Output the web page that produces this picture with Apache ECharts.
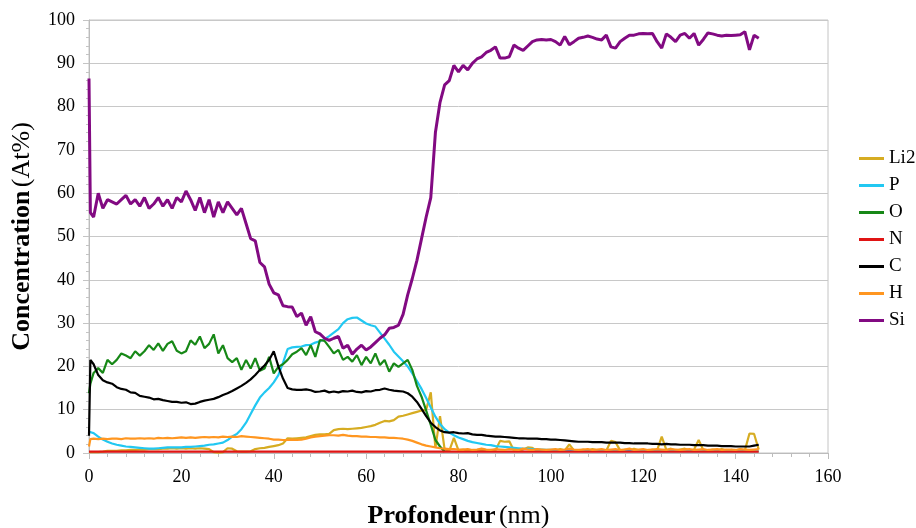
<!DOCTYPE html>
<html>
<head>
<meta charset="utf-8">
<script src="https://cdn.jsdelivr.net/npm/echarts@6/dist/echarts.min.js"></script>
<style>
html, body { margin: 0; padding: 0; background: #fff; }
#main { width: 916px; height: 528px; }
</style>
</head>
<body>
<div id="main"></div>
<script>
// profondeur (nm)
var depth = [0, 0.3,
    1, 2, 3, 4, 5, 6, 7, 8, 9, 10,
    11, 12, 13, 14, 15, 16, 17, 18, 19, 20,
    21, 22, 23, 24, 25, 26, 27, 28, 29, 30,
    31, 32, 33, 34, 35, 36, 37, 38, 39, 40,
    41, 42, 43, 44, 45, 46, 47, 48, 49, 50,
    51, 52, 53, 54, 55, 56, 57, 58, 59, 60,
    61, 62, 63, 64, 65, 66, 67, 68, 69, 70,
    71, 72, 73, 74, 75, 76, 77, 78, 79, 80,
    81, 82, 83, 84, 85, 86, 87, 88, 89, 90,
    91, 92, 93, 94, 95, 96, 97, 98, 99, 100,
    101, 102, 103, 104, 105, 106, 107, 108, 109, 110,
    111, 112, 113, 114, 115, 116, 117, 118, 119, 120,
    121, 122, 123, 124, 125, 126, 127, 128, 129, 130,
    131, 132, 133, 134, 135, 136, 137, 138, 139, 140,
    141, 142, 143, 144, 145];

var li2 = [0.2, 0.2,
    0.2, 0.2, 0.3, 0.5, 0.5, 0.5, 0.6, 0.6, 0.7, 0.7,
    0.8, 0.8, 0.9, 0.9, 0.9, 1, 1, 1.1, 1, 1.1,
    1, 1.1, 1, 1.1, 1, 0.9, 0.2, 0.1, 0.2, 1.1,
    1, 0.4, 0.3, 0.3, 0.4, 0.9, 1.1, 1.2, 1.4, 1.6,
    1.8, 2.2, 3.4, 3.3, 3.4, 3.5, 3.6, 3.9, 4.2, 4.3,
    4.3, 4.4, 5.3, 5.5, 5.6, 5.5, 5.6, 5.7, 5.8, 6,
    6.2, 6.5, 7, 7.4, 7.3, 7.6, 8.4, 8.6, 8.9, 9.2,
    9.5, 9.8, 10, 14, 1.2, 8.5, 0.8, 0.5, 3.5, 0.6,
    0.8, 0.5, 0.7, 0.5, 0.6, 0.5, 0.7, 0.6, 2.8, 2.6,
    2.7, 0.6, 0.5, 0.8, 1.3, 1.2, 0.5, 0.6, 0.5, 0.7,
    0.5, 0.9, 0.6, 2, 0.6, 0.5, 0.8, 0.5, 0.9, 0.6,
    0.7, 0.5, 2.8, 2.5, 0.6, 0.8, 0.5, 1, 0.6, 0.7,
    0.5, 0.8, 0.6, 3.8, 0.7, 1, 0.5, 0.8, 1, 0.6,
    0.8, 3, 0.7, 0.5, 0.8, 0.6, 0.9, 0.5, 0.7, 0.6,
    0.8, 0.6, 4.5, 4.4, 0.8];

var p = [4.9, 4.9,
    4.6, 3.8, 3.1, 2.6, 2.2, 1.9, 1.7, 1.5, 1.4, 1.3,
    1.2, 1.1, 1.0, 1.0, 1.1, 1.2, 1.3, 1.3, 1.3, 1.3,
    1.4, 1.4, 1.5, 1.6, 1.7, 1.9, 2, 2.2, 2.4, 3,
    3.8, 4.4, 5.5, 7, 9, 11, 12.8, 14, 15, 16.3,
    18, 20.8, 24, 24.4, 24.5, 24.6, 24.9, 25, 25.5, 25.8,
    26.3, 27, 27.8, 28.6, 30, 30.9, 31.2, 31.3, 30.6, 29.9,
    29.5, 29.2, 27.8, 26.4, 25, 23.4, 22.3, 21.2, 20, 18.4,
    16.6, 14.8, 12.7, 10.5, 8.4, 6.7, 5.5, 4.7, 4.1, 3.6,
    3.2, 2.8, 2.5, 2.3, 2.1, 1.9, 1.8, 1.6, 1.5, 1.4,
    1.3, 1.2, 1.1, 1.0, 0.95, 0.9, 0.85, 0.8, 0.75, 0.7,
    0.7, 0.65, 0.65, 0.6, 0.6, 0.6, 0.55, 0.55, 0.55, 0.5,
    0.5, 0.5, 0.5, 0.5, 0.5, 0.5, 0.5, 0.5, 0.5, 0.5,
    0.45, 0.45, 0.45, 0.45, 0.45, 0.45, 0.45, 0.45, 0.45, 0.45,
    0.4, 0.4, 0.4, 0.4, 0.4, 0.4, 0.4, 0.4, 0.4, 0.4,
    0.4, 0.4, 0.4, 0.4, 0.4];

var o = [13.8, 16,
    18.5, 19.6, 18.5, 21.5, 20.5, 21.5, 23, 22.5, 21.9, 23.5,
    22.5, 23.5, 24.9, 23.8, 25.3, 23.6, 25.2, 25.8, 23.6, 23,
    23.5, 26, 25, 26.9, 24.2, 25.2, 27.4, 23, 24.9, 21.9,
    21, 21.9, 19.2, 21.5, 19.5, 21.9, 19, 19.5, 22.2, 18.4,
    19.9, 20.5, 21.5, 22.8, 23.4, 24.2, 22.6, 24.9, 22.2, 26.1,
    25.9, 24.5, 23, 23.8, 21.5, 22.2, 21.1, 22.6, 20.3, 22.2,
    20.7, 23, 20.3, 21.5, 18.8, 20.7, 19.9, 20.7, 21.5, 19.2,
    15.5, 13, 9.8, 6.5, 3, 1.5, 0.3, null, null, null,
    null, null, null, null, null, null, null, null, null, null,
    null, null, null, null, null, null, null, null, null, null,
    null, null, null, null, null, null, null, null, null, null,
    null, null, null, null, null, null, null, null, null, null,
    null, null, null, null, null, null, null, null, null, null,
    null, null, null, null, null, null, null, null, null, null,
    null, null, null, null, null];

var n = [0.3, 0.3,
    0.3, 0.3, 0.3, 0.3, 0.3, 0.3, 0.3, 0.3, 0.3, 0.3,
    0.3, 0.3, 0.3, 0.3, 0.3, 0.3, 0.3, 0.3, 0.3, 0.3,
    0.3, 0.3, 0.3, 0.3, 0.3, 0.3, 0.3, 0.3, 0.3, 0.3,
    0.3, 0.3, 0.3, 0.3, 0.3, 0.3, 0.3, 0.3, 0.3, 0.3,
    0.3, 0.3, 0.3, 0.3, 0.3, 0.3, 0.3, 0.3, 0.3, 0.3,
    0.3, 0.3, 0.3, 0.3, 0.3, 0.3, 0.3, 0.3, 0.3, 0.3,
    0.3, 0.3, 0.3, 0.3, 0.3, 0.3, 0.3, 0.3, 0.3, 0.3,
    0.3, 0.3, 0.3, 0.3, 0.3, 0.3, 0.3, 0.3, 0.3, 0.3,
    0.3, 0.3, 0.3, 0.3, 0.3, 0.3, 0.3, 0.3, 0.3, 0.3,
    0.3, 0.3, 0.3, 0.3, 0.3, 0.3, 0.3, 0.3, 0.3, 0.3,
    0.3, 0.3, 0.3, 0.3, 0.3, 0.3, 0.3, 0.3, 0.3, 0.3,
    0.3, 0.3, 0.3, 0.3, 0.3, 0.3, 0.3, 0.3, 0.3, 0.3,
    0.3, 0.3, 0.3, 0.3, 0.3, 0.3, 0.3, 0.3, 0.3, 0.3,
    0.3, 0.3, 0.3, 0.3, 0.3, 0.3, 0.3, 0.3, 0.3, 0.3,
    0.3, 0.3, 0.3, 0.3, 0.3];

var c = [4, 21.5,
    20.5, 18, 16.8, 16.3, 16, 15.2, 14.8, 14.6, 14, 13.9,
    13.2, 13, 12.8, 12.4, 12.5, 12.2, 12, 11.8, 11.8, 11.6,
    11.7, 11.3, 11.4, 11.8, 12.1, 12.3, 12.5, 12.9, 13.4, 13.8,
    14.3, 14.9, 15.5, 16.2, 17, 18, 19.2, 20.2, 21.5, 23.5,
    20, 17.2, 15, 14.7, 14.6, 14.6, 14.7, 14.5, 14.1, 14.2,
    14.4, 14, 14.2, 14, 14.3, 14.2, 14.4, 14.1, 14, 14.3,
    14.2, 14.5, 14.6, 14.9, 14.6, 14.4, 14.3, 14.2, 13.8, 13,
    11.8, 10.2, 8.5, 7, 6, 5.2, 4.8, 4.7, 4.8, 4.6,
    4.5, 4.6, 4.3, 4.2, 4.2, 4, 3.9, 3.8, 3.8, 3.7,
    3.6, 3.5, 3.4, 3.4, 3.3, 3.3, 3.3, 3.2, 3.2, 3.1,
    3.1, 3, 2.9, 2.8, 2.7, 2.6, 2.6, 2.6, 2.5, 2.5,
    2.5, 2.4, 2.4, 2.4, 2.4, 2.3, 2.3, 2.2, 2.2, 2.2,
    2.2, 2.1, 2.1, 2, 2.1, 2, 2, 1.9, 1.9, 1.9,
    1.8, 1.8, 1.8, 1.7, 1.7, 1.7, 1.6, 1.6, 1.6, 1.5,
    1.5, 1.5, 1.5, 1.7, 1.9];

var h = [1.5, 3.2,
    3.3, 3.2, 3.3, 3.2, 3.3, 3.3, 3.2, 3.4, 3.3, 3.3,
    3.4, 3.3, 3.4, 3.3, 3.5, 3.4, 3.5, 3.4, 3.5, 3.6,
    3.5, 3.6, 3.5, 3.6, 3.7, 3.6, 3.7, 3.6, 3.8, 3.7,
    3.8, 3.7, 3.9, 3.8, 3.7, 3.6, 3.5, 3.4, 3.3, 3.1,
    3.1, 3, 3, 3.1, 3, 3.1, 3.3, 3.6, 3.8, 3.9,
    4, 4.1, 4.1, 4, 4.2, 4, 3.9, 3.9, 3.8, 3.8,
    3.7, 3.7, 3.6, 3.6, 3.5, 3.5, 3.4, 3.3, 3.1, 2.8,
    2.4, 2, 1.7, 1.5, 1.3, 1.1, 1, 0.9, 0.9, 0.8,
    0.8, 0.9, 0.7, 0.8, 1.0, 0.8, 0.7, 0.9, 0.8, 0.7,
    0.9, 0.8, 0.7, 1.0, 0.8, 0.7, 0.9, 0.8, 0.7, 0.8,
    0.9, 0.7, 0.8, 1.0, 0.8, 0.7, 0.8, 0.9, 0.7, 0.8,
    0.9, 0.7, 0.8, 0.9, 0.7, 0.8, 1.0, 0.7, 0.8, 0.9,
    0.7, 0.8, 0.9, 0.8, 0.7, 0.9, 0.8, 0.7, 0.8, 0.9,
    0.7, 0.8, 0.9, 0.7, 0.8, 0.9, 0.7, 0.8, 0.8, 0.7,
    0.9, 0.8, 0.7, 0.8, 0.9];

var si = [86.5, 55.5,
    54.5, 60, 56.5, 58.5, 58, 57.5, 58.5, 59.5, 57.5, 58.5,
    57, 59, 56.5, 57.5, 59, 57, 58.5, 56.5, 59, 58,
    60.5, 58.5, 56, 59, 55.5, 58.5, 54.5, 58, 55.5, 58,
    56.5, 55, 56.5, 53, 49.5, 49, 44, 43, 39, 37,
    36.5, 34, 33.8, 33.7, 31.5, 32.3, 29.5, 31.5, 28, 27.5,
    26.5, 26, 26.5, 26.9, 24.2, 24.9, 22.8, 24, 24.9, 23.8,
    24.5, 25.5, 26.5, 27.3, 28.8, 29, 29.5, 32, 36.5, 40.3,
    44.5, 49.5, 54.5, 59, 74, 81, 85, 86, 89.5, 88,
    89.5, 88.5, 90, 91, 91.5, 92.5, 93, 93.8, 91.2, 91.2,
    91.5, 94.2, 93.5, 93, 94, 95, 95.4, 95.5, 95.4, 95.5,
    95, 94.2, 96.2, 94.3, 95, 95.8, 96, 96.3, 96, 95.6,
    95.4, 96.5, 93.8, 93.5, 95, 95.8, 96.5, 96.5, 96.8, 96.9,
    96.8, 96.9, 95, 93.5, 96.8, 96, 95, 96.5, 96.9, 95.8,
    96.9, 94.2, 95.5, 97, 96.8, 96.5, 96.3, 96.5, 96.4, 96.5,
    96.6, 97.3, 93.1, 96.5, 95.8];

var names = ['Li2', 'P', 'O', 'N', 'C', 'H', 'Si'];
var values = [li2, p, o, n, c, h, si];
var colors = ['#D6AC22', '#22C8F2', '#178817', '#E01414', '#000000', '#FF9620', '#820A82'];

var font = '"Liberation Serif", "Times New Roman", serif';

function pairs(arr) {
    return depth.map(function (d, i) { return [d, arr[i]]; });
}

var series = names.map(function (name, i) {
    return {
        name: name,
        type: 'line',
        data: pairs(values[i]),
        showSymbol: false,
        connectNulls: false,
        lineStyle: { width: name == 'Si' ? 3 : 2.2, color: colors[i] },
        itemStyle: { color: colors[i] },
        z: 2 + i
    };
});

option = {
    animation: false,
    backgroundColor: '#fff',
    color: colors,
    grid: {
        left: 89,
        right: 88,
        top: 20,
        bottom: 75,
        outerBoundsMode: 'none',
        containLabel: false,
        show: true,
        borderColor: '#c4c4c4',
        borderWidth: 1,
        backgroundColor: 'transparent'
    },
    legend: {
        data: names,
        orient: 'vertical',
        left: 854,
        top: 144,
        icon: 'rect',
        itemWidth: 25,
        itemHeight: 3,
        itemGap: 8,
        textStyle: { fontFamily: font, fontSize: 19, color: '#000', lineHeight: 19 }
    },
    xAxis: {
        type: 'value',
        min: 0,
        max: 160,
        interval: 20,
        name: '{b|Profondeur} {n|(nm)}',
        nameLocation: 'middle',
        nameGap: 50,
        nameTextStyle: {
            rich: {
                b: { fontFamily: font, fontSize: 26, fontWeight: 'bold', color: '#000' },
                n: { fontFamily: font, fontSize: 26, color: '#000' }
            }
        },
        axisLine: { show: true, lineStyle: { color: '#bcbcbc', width: 1 } },
        axisTick: { show: true, length: 6, lineStyle: { color: '#bcbcbc' } },
        minorTick: { show: true, splitNumber: 5, length: 4, lineStyle: { color: '#bcbcbc' } },
        axisLabel: { fontFamily: font, fontSize: 18, color: '#000', margin: 15 },
        splitLine: { show: false }
    },
    yAxis: {
        type: 'value',
        min: 0,
        max: 100,
        interval: 10,
        name: '{b|Concentration} {n|(At%)}',
        nameLocation: 'middle',
        nameGap: 54,
        nameTextStyle: {
            rich: {
                b: { fontFamily: font, fontSize: 26, fontWeight: 'bold', color: '#000' },
                n: { fontFamily: font, fontSize: 26, color: '#000' }
            }
        },
        axisLine: { show: true, lineStyle: { color: '#bcbcbc', width: 1 } },
        axisTick: { show: true, length: 6, lineStyle: { color: '#c4c4c4' } },
        minorTick: { show: true, splitNumber: 5, length: 3, lineStyle: { color: '#c4c4c4' } },
        axisLabel: { fontFamily: font, fontSize: 18, color: '#000', margin: 14 },
        splitLine: { show: true, lineStyle: { color: '#c8c8c8', width: 1 } }
    },
    series: series
};

var myChart = echarts.init(document.getElementById('main'));
myChart.setOption(option);
</script>
</body>
</html>
